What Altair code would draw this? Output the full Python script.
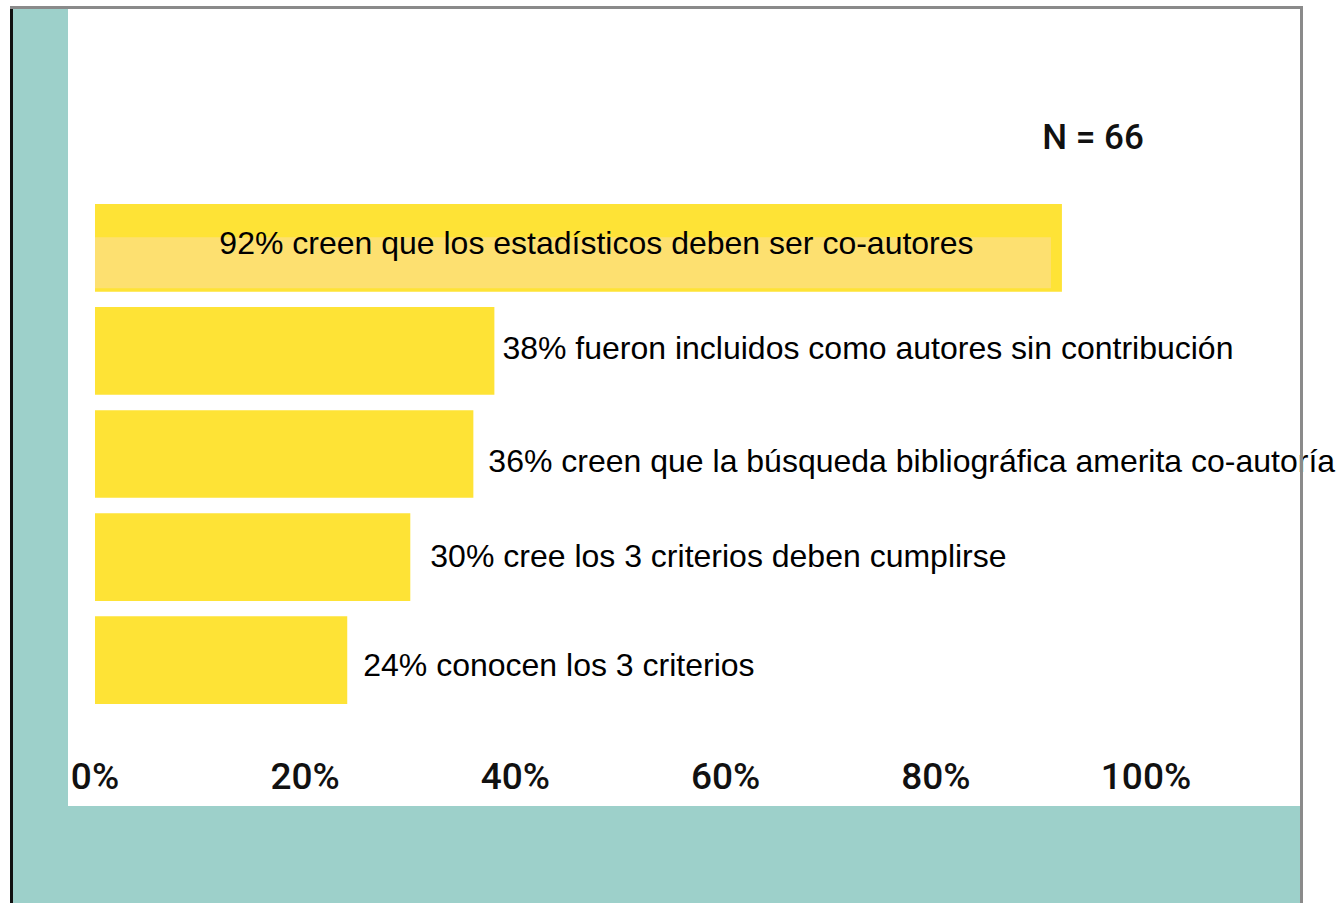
import altair as alt
import pandas as pd

# Data
labels = [
    "92% creen que los estadísticos deben ser co-autores",
    "38% fueron incluidos como autores sin contribución",
    "36% creen que la búsqueda bibliográfica amerita co-autoría",
    "30% cree los 3 criterios deben cumplirse",
    "24% conocen los 3 criterios",
]
values = [92, 38, 36, 30, 24]
ticks = [0, 20, 40, 60, 80, 100]
tick_labels = ["0%", "20%", "40%", "60%", "80%", "100%"]
note = "N = 66"

# label placement style (pixel nudges per row)
label_dx = [18, 8, 15, 20, 16]
label_dy = [-4, -2, 8, 0, 6]

df = pd.DataFrame({"label": labels, "value": values})
df["half"] = df["value"] / 2
tick_df = pd.DataFrame({"tick": ticks, "tlabel": tick_labels})

W, H = 1339, 903
TEAL = "#9dd0ca"
YELLOW = "#fee336"
LIGHT = "#fde070"

xscale = alt.Scale(domain=[0, 100], range=[95, 1146])
yscale = alt.Scale(domain=labels, range=[204, 704], paddingInner=0.15, paddingOuter=0)

blank = alt.Data(values=[{}])

teal = alt.Chart(blank).mark_rect(color=TEAL).encode(
    x=alt.value(13), x2=alt.value(1300), y=alt.value(9), y2=alt.value(903))
panel = alt.Chart(blank).mark_rect(color="white").encode(
    x=alt.value(68), x2=alt.value(1300), y=alt.value(9), y2=alt.value(806))
left_border = alt.Chart(blank).mark_rect(color="#111111").encode(
    x=alt.value(10), x2=alt.value(13), y=alt.value(6), y2=alt.value(903))
top_border = alt.Chart(blank).mark_rect(color="#8a8a8a").encode(
    x=alt.value(10), x2=alt.value(1303), y=alt.value(6), y2=alt.value(9))
right_border = alt.Chart(blank).mark_rect(color="#8a8a8a").encode(
    x=alt.value(1300), x2=alt.value(1303), y=alt.value(6), y2=alt.value(903))

base = alt.Chart(df)

Y = alt.Y("label:N", scale=yscale, sort=None, axis=None)

bars = base.mark_bar(color=YELLOW).encode(
    x=alt.X("value:Q", scale=xscale, axis=None),
    x2=alt.datum(0),
    y=Y,
)

inner = base.transform_filter(alt.datum.label == labels[0]).mark_bar(
    color=LIGHT, height=51, yOffset=15, x2Offset=-11
).encode(
    x=alt.X("z:Q", scale=xscale, axis=None),
    x2=alt.X2("value:Q"),
    y=Y,
).transform_calculate(z="0")

text_layers = []
for i, lab in enumerate(labels):
    if i == 0:
        t = base.transform_filter(alt.datum.label == lab).mark_text(
            align="center", baseline="middle", font="Liberation Sans", fontSize=32,
            color="black", dx=label_dx[i], dy=label_dy[i]
        ).encode(
            x=alt.X("half:Q", scale=xscale, axis=None), y=Y, text="label:N")
    else:
        t = base.transform_filter(alt.datum.label == lab).mark_text(
            align="left", baseline="middle", font="Liberation Sans", fontSize=32,
            color="black", dx=label_dx[i], dy=label_dy[i]
        ).encode(
            x=alt.X("value:Q", scale=xscale, axis=None), y=Y, text="label:N")
    text_layers.append(t)

tick_text = alt.Chart(tick_df).mark_text(
    align="center", baseline="middle", font="Roboto", fontSize=37,
    fontWeight=500, color="#111111"
).encode(
    x=alt.X("tick:Q", scale=xscale, axis=None),
    y=alt.value(778),
    text="tlabel:N",
)

n_text = alt.Chart(blank).mark_text(
    align="center", baseline="middle", font="Roboto", fontSize=35,
    fontWeight=500, color="#111111"
).encode(
    x=alt.value(1093), y=alt.value(138), text=alt.value(note))

chart = alt.layer(
    teal, panel, bars, inner, *text_layers, tick_text, n_text,
    left_border, top_border, right_border,
).properties(
    width=W, height=H, padding=0, autosize=alt.AutoSizeParams(type="none"),
    background="white"
).configure_view(stroke=None)

chart.save("out.html", embed_options={"renderer": "svg", "actions": False})
